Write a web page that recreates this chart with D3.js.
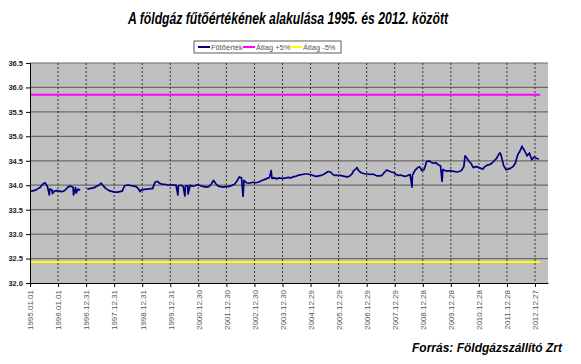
<!DOCTYPE html>
<html>
<head>
<meta charset="utf-8">
<script src="https://cdn.jsdelivr.net/npm/d3@7"></script>
<style>
  body { margin: 0; background: #fff; }
  svg { display: block; }
</style>
</head>
<body>
<script>
// Chart size
const width = 581;
const height = 364;
const plot = { left: 30, right: 548, top: 63, bottom: 283 };

// Category (tick) labels on the x axis
const tickLabels = [
  "1995.01.01", "1996.01.01", "1996.12.31", "1997.12.31", "1998.12.31",
  "1999.12.31", "2000.12.30", "2001.12.30", "2002.12.30", "2003.12.30",
  "2004.12.29", "2005.12.29", "2006.12.29", "2007.12.29", "2008.12.28",
  "2009.12.28", "2010.12.28", "2011.12.28", "2012.12.27"
];

// Heating value (null = missing data)
const years = [1995, 1996, 1997, 1998, 1999, 2000, 2001, 2002, 2003, 2004,
               2005, 2006, 2007, 2008, 2009, 2010, 2011, 2012, 2013];
const monthly = [
  [33.88, 33.89, 33.90, 33.93, 33.96, 34.02, 34.05, 33.98, 33.92, 33.90, 33.88, 33.89],
  [33.88, 33.87, 33.88, 33.92, 33.97, 33.98, 33.96, 33.95, 33.92, 33.90, null, null],
  [33.92, 33.93, 33.94, 33.95, 33.98, 34.00, 34.04, 33.98, 33.93, 33.90, 33.88, 33.87],
  [33.86, 33.86, 33.87, 33.88, 33.99, 34.00, 34.00, 33.99, 33.98, 33.97, 33.92, 33.90],
  [33.91, 33.92, 33.92, 33.93, 33.93, 34.06, 34.08, 34.04, 34.02, 34.02, 34.01, 34.00],
  [34.01, 34.00, 34.00, 33.99, 34.00, 33.98, 33.98, 33.99, 34.00, 33.98, 33.99, 34.01],
  [34.00, 33.98, 33.97, 33.96, 33.97, 34.02, 34.10, 34.03, 33.98, 33.97, 33.96, 33.97],
  [33.97, 33.98, 34.00, 34.02, 34.08, 34.17, 34.15, 34.10, 34.05, 34.04, 34.05, 34.06],
  [34.05, 34.06, 34.08, 34.10, 34.12, 34.14, 34.16, 34.14, 34.15, 34.13, 34.15, 34.14],
  [34.14, 34.15, 34.16, 34.15, 34.17, 34.18, 34.20, 34.21, 34.22, 34.23, 34.23, 34.22],
  [34.21, 34.19, 34.18, 34.19, 34.20, 34.22, 34.25, 34.28, 34.27, 34.22, 34.20, 34.20],
  [34.20, 34.19, 34.18, 34.17, 34.18, 34.22, 34.30, 34.34, 34.30, 34.26, 34.24, 34.23],
  [34.23, 34.22, 34.23, 34.21, 34.19, 34.19, 34.20, 34.26, 34.31, 34.29, 34.27, 34.26],
  [34.22, 34.20, 34.21, 34.19, 34.18, 34.20, 34.22, 34.20, 34.30, 34.35, 34.38, 34.30],
  [34.32, 34.48, 34.50, 34.47, 34.45, 34.46, 34.42, 34.40, 34.32, 34.30, 34.29, 34.30],
  [34.29, 34.28, 34.27, 34.28, 34.30, 34.38, 34.58, 34.50, 34.45, 34.36, 34.38, 34.37],
  [34.35, 34.33, 34.38, 34.41, 34.42, 34.45, 34.50, 34.55, 34.64, 34.60, 34.40, 34.32],
  [34.33, 34.35, 34.38, 34.45, 34.62, 34.70, 34.78, 34.70, 34.60, 34.66, 34.52, 34.58],
  [34.55, 34.53]
];

// Short one-day spikes seen in the picture
const spikeDates = [
  "1995.09.10", "1995.10.20", "1996.07.20", "1996.08.25", "1998.12.01",
  "2000.04.08", "2000.07.08", "2000.08.18", "2002.08.04", "2003.08.04",
  "2006.08.25", "2008.08.10", "2009.09.05", "2010.07.01", "2011.10.01",
  "2012.07.12"
];
const spikeValues = [
  33.80, 33.83, 33.80, 33.84, 33.87,
  33.80, 33.78, 33.82, 33.77, 34.30,
  34.36, 33.96, 34.08, 34.60, 34.66,
  34.80
];

// Reference lines: average +5% and -5%
const refLabels = ["Átlag +5%", "Átlag -5%"];
const refValues = [35.85, 32.43];

const yTicks = [32.0, 32.5, 33.0, 33.5, 34.0, 34.5, 35.0, 35.5, 36.0, 36.5];

const parse = d3.utcParse("%Y.%m.%d");

// Build the series
let points = [];
years.forEach((y, i) => {
  monthly[i].forEach((v, m) => {
    points.push({ date: new Date(Date.UTC(y, m, 15)), value: v });
  });
});
spikeDates.forEach((d, i) => points.push({ date: parse(d), value: spikeValues[i] }));
points.sort((a, b) => a.date - b.date);

const tickDates = tickLabels.map(parse);

// Scales
const x = d3.scaleUtc()
  .domain([tickDates[0], d3.utcDay.offset(tickDates[tickDates.length - 1], 169)])
  .range([plot.left, plot.right]);

const y = d3.scaleLinear()
  .domain([32, 36.5])
  .range([plot.bottom, plot.top]);

const svg = d3.select("body").append("svg")
  .attr("width", width)
  .attr("height", height);

// Title
svg.append("text")
  .attr("x", 288)
  .attr("y", 24)
  .attr("text-anchor", "middle")
  .attr("textLength", 320)
  .attr("lengthAdjust", "spacingAndGlyphs")
  .style("font-family", "'Liberation Sans Narrow', 'Liberation Sans', Arial, sans-serif")
  .style("font-size", "17px")
  .style("font-weight", "bold")
  .style("font-style", "italic")
  .style("fill", "#000")
  .text("A földgáz fűtőértékének alakulása 1995. és 2012. között");

// Plot background
svg.append("rect")
  .attr("x", plot.left)
  .attr("y", plot.top)
  .attr("width", plot.right - plot.left)
  .attr("height", plot.bottom - plot.top)
  .attr("fill", "#c0c0c0");

// Horizontal gridlines
svg.append("g")
  .selectAll("line")
  .data(yTicks.slice(1))
  .join("line")
  .attr("x1", plot.left)
  .attr("x2", plot.right)
  .attr("y1", d => y(d))
  .attr("y2", d => y(d))
  .attr("stroke", "#6a6a6a")
  .attr("stroke-width", 1.2);

// Vertical dashed gridlines
svg.append("g")
  .selectAll("line")
  .data(tickDates.slice(1))
  .join("line")
  .attr("x1", d => x(d))
  .attr("x2", d => x(d))
  .attr("y1", plot.top)
  .attr("y2", plot.bottom)
  .attr("stroke", "#333")
  .attr("stroke-width", 1)
  .attr("stroke-dasharray", "2,2");

// Reference lines
const refColors = ["#ff00ff", "#ffff00"];
svg.append("g")
  .selectAll("line")
  .data(refValues)
  .join("line")
  .attr("x1", plot.left)
  .attr("x2", plot.right - 8)
  .attr("y1", d => y(d))
  .attr("y2", d => y(d))
  .attr("stroke", (d, i) => refColors[i])
  .attr("stroke-width", 2);

// Main series
const line = d3.line()
  .defined(d => d.value !== null)
  .x(d => x(d.date))
  .y(d => y(d.value));

svg.append("path")
  .datum(points)
  .attr("d", line)
  .attr("fill", "none")
  .attr("stroke", "#000080")
  .attr("stroke-width", 1.7)
  .attr("stroke-linejoin", "round");

// Y axis
const yAxis = svg.append("g")
  .attr("transform", `translate(${plot.left},0)`)
  .call(d3.axisLeft(y).tickValues(yTicks).tickFormat(d3.format(".1f")).tickSize(4).tickPadding(3));
yAxis.select(".domain").attr("stroke", "#000");
yAxis.selectAll("text")
  .style("font-family", "'Liberation Sans', Arial, sans-serif")
  .style("font-size", "7.5px")
  .style("font-weight", "bold")
  .style("fill", "#222");

// X axis
const xAxis = svg.append("g")
  .attr("transform", `translate(0,${plot.bottom})`)
  .call(d3.axisBottom(x).tickValues(tickDates).tickFormat((d, i) => tickLabels[i]).tickSize(4).tickSizeOuter(0));
xAxis.select(".domain").attr("stroke", "#000");
xAxis.selectAll("text")
  .attr("transform", "rotate(-90)")
  .attr("text-anchor", "end")
  .attr("x", -7)
  .attr("y", 0)
  .attr("dy", "0.35em")
  .style("font-family", "'Liberation Sans Narrow', 'Liberation Sans', Arial, sans-serif")
  .style("font-size", "8px")
  .style("fill", "#555");

// Legend
const legend = svg.append("g").attr("transform", "translate(194,41)");
legend.append("rect")
  .attr("width", 147)
  .attr("height", 12)
  .attr("fill", "#fff")
  .attr("stroke", "#333")
  .attr("stroke-width", 0.8);

const legendItems = [
  { label: "Fűtőérték", color: "#000080", x: 4 },
  { label: refLabels[0], color: refColors[0], x: 49 },
  { label: refLabels[1], color: refColors[1], x: 96 }
];
legendItems.forEach(item => {
  legend.append("line")
    .attr("x1", item.x)
    .attr("x2", item.x + 12)
    .attr("y1", 6)
    .attr("y2", 6)
    .attr("stroke", item.color)
    .attr("stroke-width", 2);
  legend.append("text")
    .attr("x", item.x + 13)
    .attr("y", 8.5)
    .style("font-family", "'Liberation Sans Narrow', 'Liberation Sans', Arial, sans-serif")
    .style("font-size", "7.5px")
    .style("fill", "#555")
    .text(item.label);
});

// Source note
svg.append("text")
  .attr("x", 562)
  .attr("y", 352)
  .attr("text-anchor", "end")
  .style("font-family", "'Liberation Sans Narrow', 'Liberation Sans', Arial, sans-serif")
  .style("font-size", "12px")
  .style("font-weight", "bold")
  .style("font-style", "italic")
  .style("fill", "#000")
  .text("Forrás: Földgázszállító Zrt");
</script>
</body>
</html>
